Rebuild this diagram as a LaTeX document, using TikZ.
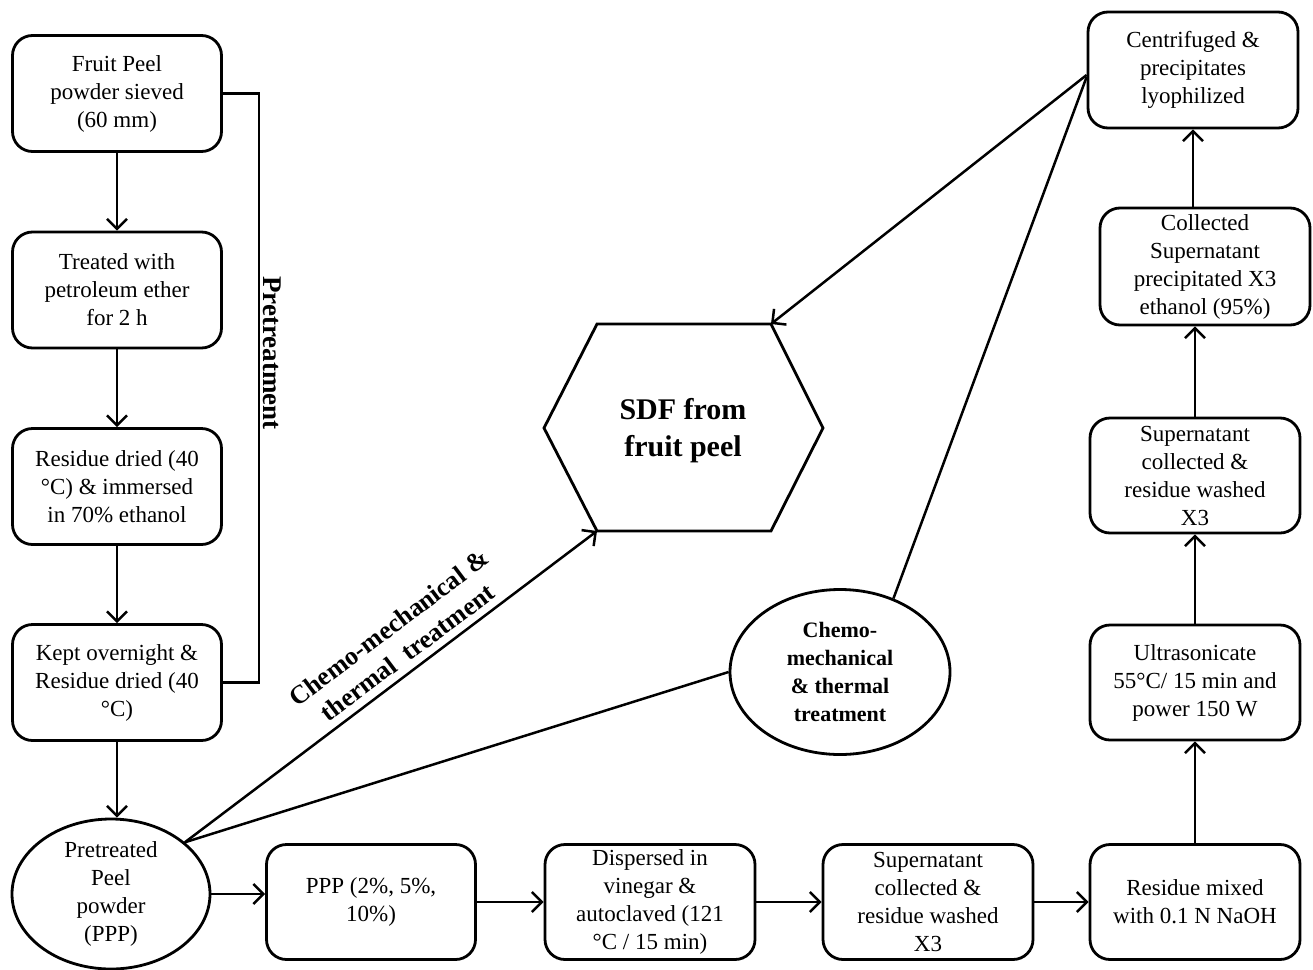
\documentclass[tikz,border=0pt]{standalone}
\usepackage{fontspec}
\setmainfont{Liberation Serif}
\usetikzlibrary{arrows.meta,shapes.geometric,calc}
\begin{document}
\begin{tikzpicture}[x=1pt,y=-1pt,
  every node/.style={font=\fontsize{23}{28}\selectfont, align=center, inner sep=0pt},
  pbox/.style={draw, line width=2.8pt, rounded corners=20pt, minimum width=209pt, minimum height=116pt},
  pell/.style={draw, ellipse, line width=2.8pt},
  lnk/.style={line width=2.5pt},
  arr/.style={line width=2.5pt, -{Straight Barb[length=10pt,width=20pt,line width=2.5pt]}},
  boldlab/.style={font=\bfseries\fontsize{26}{31}\selectfont}
]
\useasboundingbox (0,0) rectangle (1313,969);
% left column
\node[pbox] (b1) at (117,93.5) {Fruit Peel\\powder sieved\\(60 mm)};
\node[pbox] (b2) at (117,290) {Treated with\\petroleum ether\\for 2 h};
\node[pbox] (b3) at (117,486.5) {Residue dried (40\\°C) \& immersed\\in 70\% ethanol};
\node[pbox] (b4) at (117,682.5) {Kept overnight \&\\Residue dried (40\\°C)};
\node[pell, minimum width=198pt, minimum height=150pt] (pe) at (111,894) {Pretreated\\Peel\\powder\\(PPP)};
% bottom row
\node[pbox, minimum height=115pt] (c1) at (371,902) {PPP (2\%, 5\%,\\10\%)};
\node[pbox, minimum width=210pt, minimum height=115pt] (c2) at (650,902) {Dispersed in\\vinegar \&\\autoclaved (121\\°C / 15 min)};
\node[pbox, minimum width=210pt, minimum height=115pt] (c3) at (928,902) {Supernatant\\collected \&\\residue washed\\X3};
\node[pbox, minimum width=210pt, minimum height=115pt] (c4) at (1195,902) {Residue mixed\\with 0.1 N NaOH};
% right column
\node[pbox, minimum width=210pt, minimum height=115pt] (r1) at (1195,682.5) {Ultrasonicate\\55°C/ 15 min and\\power 150 W};
\node[pbox, minimum width=210pt, minimum height=115pt] (r2) at (1195,475.5) {Supernatant\\collected \&\\residue washed\\X3};
\node[pbox, minimum width=210pt, minimum height=117pt] (r3) at (1205,266.5) {Collected\\Supernatant\\precipitated X3\\ethanol (95\%)};
\node[pbox, minimum width=210pt, minimum height=116pt] (r4) at (1193,70) {Centrifuged \&\\precipitates\\lyophilized};
% hexagon
\coordinate (hL) at (544,428);
\coordinate (hTL) at (597,324);
\coordinate (hTR) at (771,324);
\coordinate (hR) at (823,428);
\coordinate (hBR) at (771,531);
\coordinate (hBL) at (597,531);
\draw[line width=2.8pt, line join=miter] (hL) -- (hTL) -- (hTR) -- (hR) -- (hBR) -- (hBL) -- cycle;
\node[font=\bfseries\fontsize{30}{37}\selectfont] (sdf) at (683,431) {SDF from\\fruit peel};
% chemo ellipse
\node[pell, minimum width=220pt, minimum height=165pt, font=\bfseries\fontsize{22}{28}\selectfont] (ch) at (840,672) {Chemo-\\mechanical\\\& thermal\\treatment};
% connectors
\draw[arr] (b1.south) -- (b2.north);
\draw[arr] (b2.south) -- (b3.north);
\draw[arr] (b3.south) -- (b4.north);
\draw[arr] (b4.south) -- (b4.south |- pe.north);
\draw[lnk] (b1.east) -- ++(36,0) |- (b4.east);
\node[font=\bfseries\fontsize{27}{28}\selectfont, rotate=-90] (pre) at (272,353) {Pretreatment};
\draw[arr] (pe.east) -- (pe.east -| c1.west);
\draw[arr] (c1.east) -- (c2.west);
\draw[arr] (c2.east) -- (c3.west);
\draw[arr] (c3.east) -- (c4.west);
\draw[arr] (c4.north) -- (c4.north |- r1.south);
\draw[arr] (r1.north) -- (r1.north |- r2.south);
\draw[arr] (r2.north) -- (r2.north |- r3.south);
\draw[arr] (r4.south |- r3.north) -- (r4.south);
\draw[arr] ([yshift=-5pt]r4.west) -- (hTR);
\draw[lnk] ([yshift=-7pt]r4.west) -- (ch.54);
\draw[lnk] (ch.west) -- (pe.35);
\draw[arr] (pe.35) -- (hBL);
\node[boldlab, rotate=37] (cmt) at (398,640) {Chemo-mechanical \&\\thermal\ \ treatment};
\end{tikzpicture}
\end{document}
